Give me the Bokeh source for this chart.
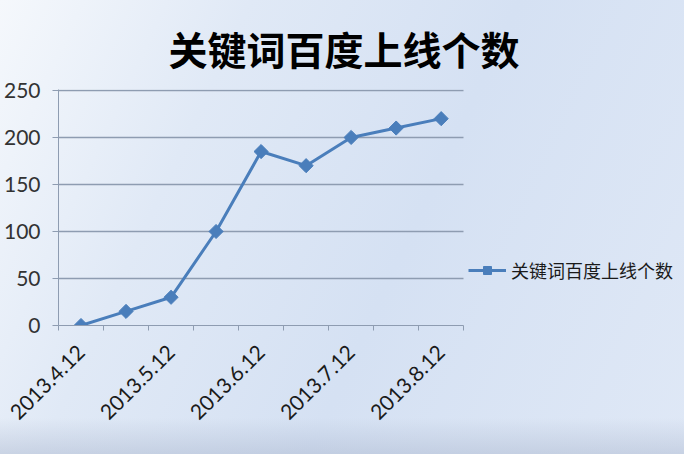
from math import pi

from bokeh.embed import file_html
from bokeh.models import ColumnDataSource, FixedTicker, Legend, LegendItem, Title
from bokeh.plotting import figure
from bokeh.resources import INLINE

# data (one point every half month)
dates = ["2013.4.12", "2013.4.27", "2013.5.12", "2013.5.27", "2013.6.12",
         "2013.6.27", "2013.7.12", "2013.7.27", "2013.8.12"]
counts = [0, 15, 30, 100, 185, 170, 200, 210, 220]
y_ticks = [0, 50, 100, 150, 200, 250]
series_name = "关键词百度上线个数"

blue = "#4a7ebb"
grid_grey = "#8e9cb1"
cjk = "Noto Sans CJK SC"

n = len(dates)
src = ColumnDataSource(dict(x=list(range(n)), y=counts))

# the frame runs on to the right edge so the legend can sit beside the data
p = figure(
    width=684,
    height=454,
    x_range=(-0.5, 13.36),
    y_range=(0, 251),
    output_backend="svg",
    toolbar_location=None,
    tools="",
    min_border_left=10,
    min_border_right=2,
    min_border_top=89,
    min_border_bottom=129,
)
p.title = Title(text=series_name, align="left", offset=110, standoff=28,
                text_font=cjk, text_font_size="39px", text_font_style="bold",
                text_color="#000000")

# gradient background behind a transparent canvas
p.styles = {"background": "linear-gradient(to bottom, rgba(255,255,255,0) 92%, rgba(170,182,205,0.45) 100%), "
                          "linear-gradient(115deg, #f5f8fc 0%, #e0e9f6 28%, #d5e1f3 58%, #dfe8f6 100%)"}
p.border_fill_alpha = 0
p.background_fill_alpha = 0
p.outline_line_color = None

line = p.line("x", "y", source=src, line_color=blue, line_width=3)
dots = p.scatter("x", "y", source=src, marker="square", angle=pi / 4, size=10,
                 fill_color=blue, line_color=blue)

# x axis: labels on every other date, ticks between the categories
label_pos = list(range(0, n, 2))
p.xaxis.bounds = (-0.5, n - 0.5)
p.xaxis.ticker = FixedTicker(ticks=label_pos,
                             minor_ticks=[i - 0.5 for i in range(n + 1)])
p.xaxis.major_label_overrides = {i: dates[i] for i in label_pos}
p.xaxis.major_label_orientation = pi / 4
p.xaxis.major_tick_out = 0
p.xaxis.major_tick_in = 0
p.xaxis.minor_tick_out = 5
p.xaxis.minor_tick_in = 0
p.xaxis.axis_line_color = grid_grey
p.xaxis.minor_tick_line_color = grid_grey
p.xaxis.major_label_text_font = "Lato"
p.xaxis.major_label_text_font_size = "21px"
p.xaxis.major_label_text_color = "#1a1a1a"
p.xaxis.major_label_standoff = 18

p.yaxis.ticker = FixedTicker(ticks=y_ticks)
p.yaxis.major_tick_out = 6
p.yaxis.major_tick_in = 0
p.yaxis.minor_tick_line_color = None
p.yaxis.axis_line_color = grid_grey
p.yaxis.major_tick_line_color = grid_grey
p.yaxis.major_label_text_font = "Lato"
p.yaxis.major_label_text_font_size = "21px"
p.yaxis.major_label_text_color = "#333333"
p.yaxis.major_label_standoff = 12

p.xgrid.grid_line_color = None
p.ygrid.grid_line_color = grid_grey
p.ygrid.grid_line_width = 1.3
p.ygrid.cross_bounds = (-0.5, n - 0.5)

legend = Legend(items=[LegendItem(label=series_name, renderers=[line, dots])],
                location=(410, 42), border_line_color=None, background_fill_alpha=0,
                label_text_font=cjk, label_text_font_size="18px",
                label_text_color="#1a1a1a", glyph_width=38, padding=2, margin=0,
                label_standoff=5)
p.add_layout(legend, "center")

open("out.html", "w").write(file_html(p, INLINE))
